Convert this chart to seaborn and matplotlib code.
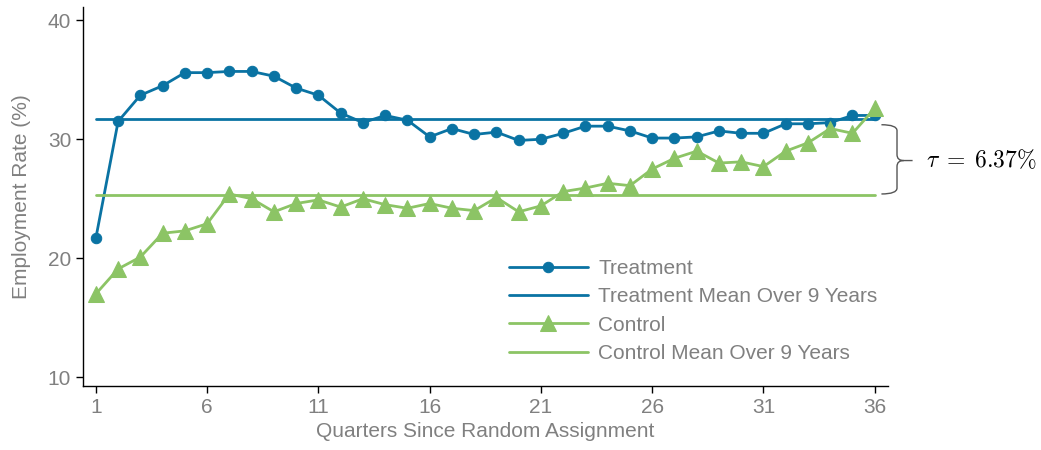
import numpy as np
import matplotlib
matplotlib.use("Agg")
import matplotlib.pyplot as plt
from matplotlib.path import Path
from matplotlib.patches import PathPatch
import seaborn as sns

# Values
quarters = np.arange(1, 37)
treatment = [21.7, 31.5, 33.7, 34.5, 35.6, 35.6, 35.7, 35.7, 35.3, 34.3,
             33.7, 32.2, 31.4, 32.0, 31.6, 30.2, 30.9, 30.4, 30.6, 29.9,
             30.0, 30.5, 31.1, 31.1, 30.7, 30.1, 30.1, 30.2, 30.7, 30.5,
             30.5, 31.3, 31.3, 31.4, 32.0, 32.0]
control = [17.0, 19.1, 20.1, 22.1, 22.3, 22.9, 25.4, 25.0, 23.9, 24.6,
           24.9, 24.3, 25.0, 24.5, 24.2, 24.6, 24.2, 24.0, 25.1, 23.9,
           24.4, 25.6, 25.9, 26.3, 26.1, 27.5, 28.4, 29.0, 28.0, 28.1,
           27.7, 29.0, 29.7, 30.9, 30.5, 32.6]
treatment_mean = 31.67
control_mean = 25.30
tau_label = r"$\tau\;=\;6.37\%$"

BLUE = "#0a73a3"
GREEN = "#8cc465"
GREY = "#808080"

sns.set_style("ticks")
plt.rcParams['font.family'] = ['Liberation Sans', 'DejaVu Sans']
plt.rcParams['mathtext.fontset'] = 'cm'

fig = plt.figure(figsize=(10.41, 4.5), dpi=100)
ax = fig.add_axes([0.0797, 0.142, 0.773, 0.842])

sns.lineplot(x=quarters, y=treatment, ax=ax, color=BLUE, linewidth=2,
             marker='o', markersize=7.5, markeredgecolor=BLUE, label="Treatment")
sns.lineplot(x=quarters, y=np.full(len(quarters), treatment_mean), ax=ax,
             color=BLUE, linewidth=2, label="Treatment Mean Over 9 Years")
sns.lineplot(x=quarters, y=control, ax=ax, color=GREEN, linewidth=2,
             marker='^', markersize=11, markeredgecolor=GREEN, label="Control")
sns.lineplot(x=quarters, y=np.full(len(quarters), control_mean), ax=ax,
             color=GREEN, linewidth=2, label="Control Mean Over 9 Years")

ax.set_xlim(0.42, 36.58)
ax.set_ylim(9.25, 41.1)
ax.set_xticks(range(1, 37, 5))
ax.set_yticks([10, 20, 30, 40])
ax.tick_params(axis='both', colors='black', labelcolor=GREY, labelsize=15,
               length=5, width=1)
ax.set_xlabel("Quarters Since Random Assignment", fontsize=15, color=GREY)
ax.set_ylabel("Employment Rate (%)", fontsize=15, color=GREY, labelpad=12)
for s in ['left', 'bottom']:
    ax.spines[s].set_color('black')
    ax.spines[s].set_linewidth(1)
sns.despine(ax=ax)

# curly brace between the two means
x0, x1, xt = 36.3, 37.0, 37.7
ytop = treatment_mean - 0.45
ybot = control_mean + 0.1
ymid = (ytop + ybot) / 2 - 0.1
r, rx = 0.5, 0.3
verts = [(x0, ytop), (x1, ytop), (x1, ytop - r), (x1, ymid + r), (x1, ymid), (x1 + rx, ymid),
         (xt, ymid),
         (x0, ybot), (x1, ybot), (x1, ybot + r), (x1, ymid - r), (x1, ymid), (x1 + rx, ymid)]
codes = [Path.MOVETO, Path.CURVE3, Path.CURVE3, Path.LINETO, Path.CURVE3, Path.CURVE3,
         Path.LINETO,
         Path.MOVETO, Path.CURVE3, Path.CURVE3, Path.LINETO, Path.CURVE3, Path.CURVE3]
brace = PathPatch(Path(verts, codes), facecolor='none', edgecolor='#555555',
                  linewidth=1, clip_on=False)
ax.add_patch(brace)
ax.text(38.3, ymid, tau_label, fontsize=17, va='center', ha='left', color='black')

leg = ax.legend(loc='upper left', bbox_to_anchor=(0.506, 0.385), frameon=False,
                fontsize=15, handlelength=3.8, handletextpad=0.5, labelspacing=0.45)
for t in leg.get_texts():
    t.set_color(GREY)

fig.savefig("out.png", dpi=100)
